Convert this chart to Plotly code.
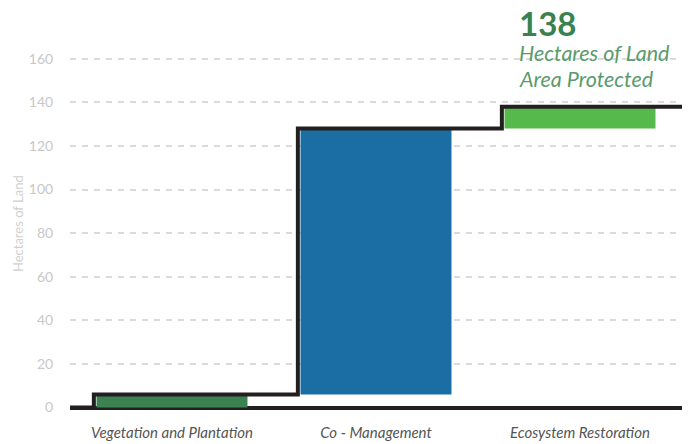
import plotly.graph_objects as go

# Land area protected, by activity (hectares)
categories = ["Vegetation and Plantation", "Co - Management", "Ecosystem Restoration"]
hectares = [6, 122, 10]
bar_colors = ["#3b8351", "#1a6ea3", "#56b94b"]
y_ticks = [0, 20, 40, 60, 80, 100, 120, 140, 160]

total = sum(hectares)
bases = [sum(hectares[:i]) for i in range(len(hectares))]
tops = [b + h for b, h in zip(bases, hectares)]

BAR_W = 0.74
FONT = "Lato"

fig = go.Figure()

fig.add_trace(go.Bar(
    x=list(range(len(categories))),
    y=hectares,
    base=bases,
    width=BAR_W,
    marker=dict(color=bar_colors, line=dict(width=0)),
    hoverinfo="skip",
))

# cumulative step outline running along the left edge and top of each bar
edge = 0.013
sx, sy = [-0.5], [0]
for i, top in enumerate(tops):
    xl = i - BAR_W / 2 - edge
    sx += [xl, xl]
    sy += [sy[-1], top]
sx.append(len(categories) - 0.5)
sy.append(tops[-1])

fig.add_trace(go.Scatter(
    x=sx, y=sy, mode="lines",
    line=dict(color="#231f20", width=4, shape="linear"),
    hoverinfo="skip",
))

fig.add_annotation(
    x=0.731, y=1.085, xref="paper", yref="paper",
    xanchor="left", yanchor="middle",
    text=f"<b>{total}</b>", showarrow=False,
    font=dict(family=FONT, size=33, color="#3a8150"),
)
for text, ypos in [("Hectares of Land", 1.003), ("Area Protected", 0.930)]:
    fig.add_annotation(
        x=0.731, y=ypos, xref="paper", yref="paper",
        xanchor="left", yanchor="middle", align="left",
        text=f"<i>{text}</i>", showarrow=False,
        font=dict(family=FONT, size=21.5, color="#5a9b6c"),
    )
fig.add_annotation(
    x=-0.085, y=0.529, xref="paper", yref="paper",
    xanchor="center", yanchor="middle", textangle=-90,
    text="Hectares of Land", showarrow=False,
    font=dict(family=FONT, size=13, color="#d0d0d0"),
)

fig.update_layout(
    width=691, height=444,
    margin=dict(l=70, r=9, t=54, b=31, autoexpand=False),
    plot_bgcolor="white", paper_bgcolor="white",
    showlegend=False,
    font=dict(family=FONT),
    xaxis=dict(
        range=[-0.5, len(categories) - 0.5],
        tickvals=list(range(len(categories))),
        ticktext=[f"<i>{c}</i>" for c in categories],
        tickfont=dict(size=15, color="#555555"),
        showgrid=False, zeroline=False, showline=False,
        ticks="outside", ticklen=6, tickcolor="rgba(0,0,0,0)",
        automargin=False,
    ),
    yaxis=dict(
        range=[-2.5, 162.2],
        tickvals=y_ticks,
        tickfont=dict(size=14, color="#c8c8c8"),
        showgrid=True, gridcolor="#dadada", gridwidth=1.5, griddash="6px,6px",
        zeroline=True, zerolinecolor="#231f20", zerolinewidth=4,
        ticks="outside", ticklen=13, tickcolor="rgba(0,0,0,0)",
        showline=False, automargin=False,
    ),
)

fig.write_html("out.html")
